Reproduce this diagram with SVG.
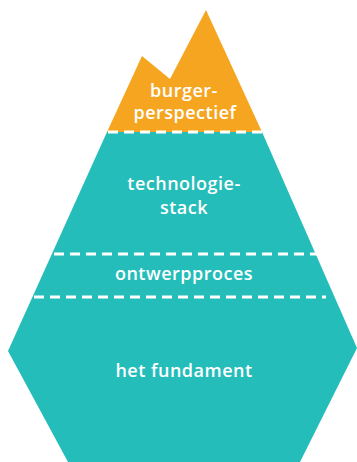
<svg xmlns="http://www.w3.org/2000/svg" width="357" height="462" viewBox="0 0 357 462">
<style>
.teal{fill:#24bdba}
.orange{fill:#f6a520}
.lbl{font-family:"Open Sans","Liberation Sans",sans-serif;font-weight:600;font-size:18px;letter-spacing:0.5px;fill:#ffffff;text-anchor:middle}
.sep{stroke:#ffffff;stroke-width:3;stroke-dasharray:10 6;fill:none}
</style>
<rect width="357" height="462" fill="#ffffff"/>
<g id="fundament">
<polygon class="teal" points="107,132 262,132 357,348 300,462 68,462 8,351"/>
<text class="lbl" x="184" y="377">het fundament</text>
</g>
<g id="ontwerpproces">
<text class="lbl" x="184" y="280">ontwerpproces</text>
</g>
<g id="technologiestack">
<text class="lbl" x="184" y="190">technologie-</text>
<text class="lbl" x="184" y="214">stack</text>
</g>
<g id="burgerperspectief">
<polygon class="orange" points="107,132 142,56 170,79 206,10 262,132"/>
<text class="lbl" x="184" y="97">burger-</text>
<text class="lbl" x="185" y="119">perspectief</text>
</g>
<g id="connectors">
<line class="sep" x1="108" y1="132" x2="262" y2="132"/>
<line class="sep" x1="54" y1="254" x2="317" y2="254"/>
<line class="sep" x1="34" y1="297" x2="326" y2="297"/>
</g>
</svg>
